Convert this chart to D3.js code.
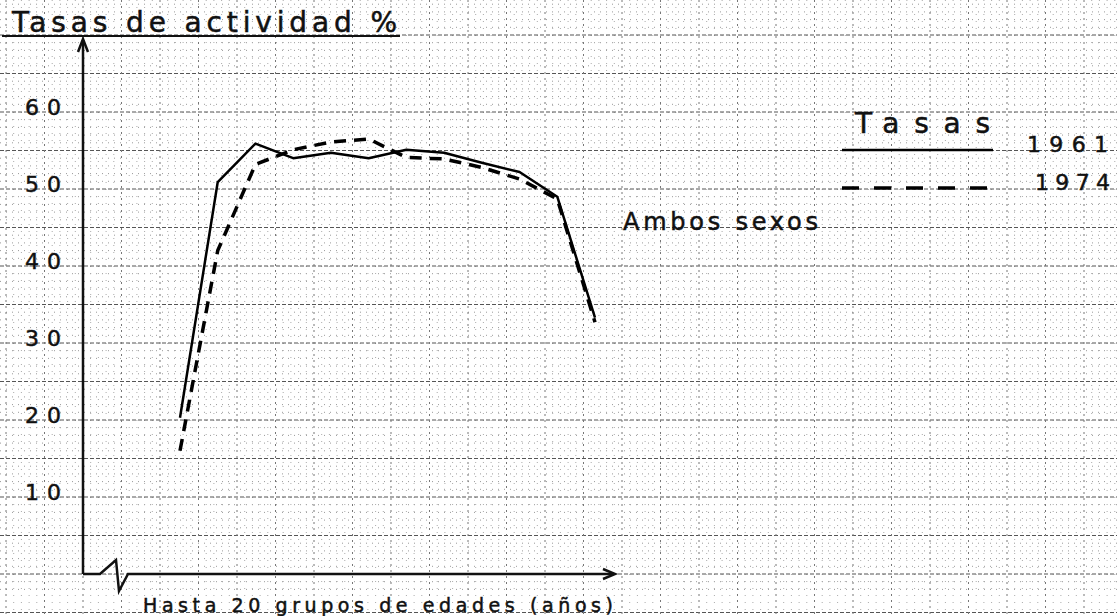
<!DOCTYPE html>
<html>
<head>
<meta charset="utf-8">
<script src="https://cdn.jsdelivr.net/npm/d3@7"></script>
<style>
  html, body { margin: 0; padding: 0; background: #fff; }
  svg { display: block; }
  text { font-family: "DejaVu Sans", sans-serif; fill: #111; stroke: #111; stroke-width: 0.5; }
</style>
</head>
<body>
<div id="chart"></div>
<script>
// age groups along the x axis (labels are cut off in the scan)
const ageGroups = ["<20", "20-24", "25-29", "30-34", "35-39", "40-44",
                   "45-49", "50-54", "55-59", "60-64", "65-69", "70+"];
// activity rates, both sexes (%)
const rates1961 = [20.3, 50.9, 55.9, 54.0, 54.7, 54.0, 55.1, 54.7, 53.4, 52.2, 49.0, 33.3];
const rates1974 = [16.0, 42.0, 53.2, 55.1, 56.1, 56.5, 54.1, 53.9, 52.8, 51.3, 48.7, 32.7];
const yTicks = [10, 20, 30, 40, 50, 60];
const seriesNames = ["1961", "1974"];

const width = 1117, height = 616;

const svg = d3.select("#chart").append("svg")
    .attr("width", width)
    .attr("height", height);

const x = d3.scalePoint().domain(ageGroups).range([180, 595]);
const y = d3.scaleLinear().domain([0, 60]).range([574, 112]);
const axisX = 83;
const step = y(0) - y(5); // one square of the graph paper

// graph paper
const paper = svg.append("g");
// fine dotted grid
d3.range(-2, 82).forEach(v => {
    if (v % 5 === 0) return;
    paper.append("line")
        .attr("x1", 0).attr("x2", width)
        .attr("y1", y(v)).attr("y2", y(v))
        .attr("stroke", "#999").attr("stroke-width", 1)
        .attr("stroke-dasharray", "1,5");
});
d3.range(-15, 140).forEach(k => {
    if (k % 5 === 0) return;
    const gx = axisX + k * step / 5;
    paper.append("line")
        .attr("x1", gx).attr("x2", gx)
        .attr("y1", 0).attr("y2", height)
        .attr("stroke", "#aaa").attr("stroke-width", 1)
        .attr("stroke-dasharray", "1,6");
});
// heavier squares
d3.range(-5, 80, 5).forEach(v => {
    paper.append("line")
        .attr("x1", 0).attr("x2", width)
        .attr("y1", y(v)).attr("y2", y(v))
        .attr("stroke", "#555").attr("stroke-width", 1.2)
        .attr("stroke-dasharray", "4,2");
});
d3.range(-3, 28).forEach(k => {
    const gx = axisX + k * step;
    paper.append("line")
        .attr("x1", gx).attr("x2", gx)
        .attr("y1", 0).attr("y2", height)
        .attr("stroke", "#777").attr("stroke-width", 1)
        .attr("stroke-dasharray", "2,4");
});

// title
svg.append("text")
    .attr("x", 12).attr("y", 32)
    .attr("font-size", 28)
    .attr("textLength", 385).attr("lengthAdjust", "spacing")
    .text("Tasas de actividad %");
svg.append("line")
    .attr("x1", 2).attr("x2", 400).attr("y1", 36).attr("y2", 36)
    .attr("stroke", "#111").attr("stroke-width", 2);

// y axis with arrow
svg.append("line")
    .attr("x1", axisX).attr("x2", axisX)
    .attr("y1", y(0)).attr("y2", 40)
    .attr("stroke", "#111").attr("stroke-width", 2.5);
svg.append("path")
    .attr("d", `M${axisX - 5},${52} L${axisX},${39} L${axisX + 5},${52}`)
    .attr("fill", "none").attr("stroke", "#111").attr("stroke-width", 2.5);

// x axis with break and arrow
const x0 = y(0);
svg.append("path")
    .attr("d", `M${axisX},${x0} L100,${x0} L116,${x0 - 14} L119,${x0 + 17} L128,${x0} L612,${x0}`)
    .attr("fill", "none").attr("stroke", "#111").attr("stroke-width", 2.5);
svg.append("path")
    .attr("d", `M603,${x0 - 5} L615,${x0} L603,${x0 + 5}`)
    .attr("fill", "none").attr("stroke", "#111").attr("stroke-width", 2.5);

// tick labels
svg.selectAll(".ytick")
    .data(yTicks)
    .enter().append("text")
    .attr("class", "ytick")
    .attr("x", 25)
    .attr("y", d => y(d) + 3)
    .attr("font-size", 22)
    .attr("textLength", 36).attr("lengthAdjust", "spacing")
    .text(d => d);

// x axis caption (at the bottom edge of the scan)
svg.append("text")
    .attr("x", 143).attr("y", 612)
    .attr("font-size", 19)
    .attr("textLength", 470).attr("lengthAdjust", "spacing")
    .text("Hasta 20   grupos de edades   (años)");

// lines
const line = d3.line()
    .x((d, i) => x(ageGroups[i]))
    .y(d => y(d));

svg.append("path")
    .datum(rates1961)
    .attr("d", line)
    .attr("fill", "none")
    .attr("stroke", "#000")
    .attr("stroke-width", 2.5)
    .attr("stroke-linejoin", "round");

svg.append("path")
    .datum(rates1974)
    .attr("d", line)
    .attr("fill", "none")
    .attr("stroke", "#000")
    .attr("stroke-width", 3.5)
    .attr("stroke-dasharray", "12,8");

svg.append("text")
    .attr("x", 623).attr("y", 230)
    .attr("font-size", 24)
    .attr("textLength", 195).attr("lengthAdjust", "spacing")
    .text("Ambos sexos");

// legend
const legend = svg.append("g");
legend.append("text")
    .attr("x", 855).attr("y", 133)
    .attr("font-size", 28)
    .attr("textLength", 135).attr("lengthAdjust", "spacing")
    .text("Tasas");
const legY = [150, 188];
seriesNames.forEach((name, i) => {
    legend.append("line")
        .attr("x1", 842).attr("x2", 993)
        .attr("y1", legY[i]).attr("y2", legY[i])
        .attr("stroke", "#000")
        .attr("stroke-width", i === 0 ? 2.5 : 3.5)
        .attr("stroke-dasharray", i === 0 ? null : "17,15");
    legend.append("text")
        .attr("x", i === 0 ? 1027 : 1035)
        .attr("y", legY[i] + 2)
        .attr("font-size", 22)
        .attr("textLength", i === 0 ? 81 : 75).attr("lengthAdjust", "spacing")
        .text(name);
});
</script>
</body>
</html>
